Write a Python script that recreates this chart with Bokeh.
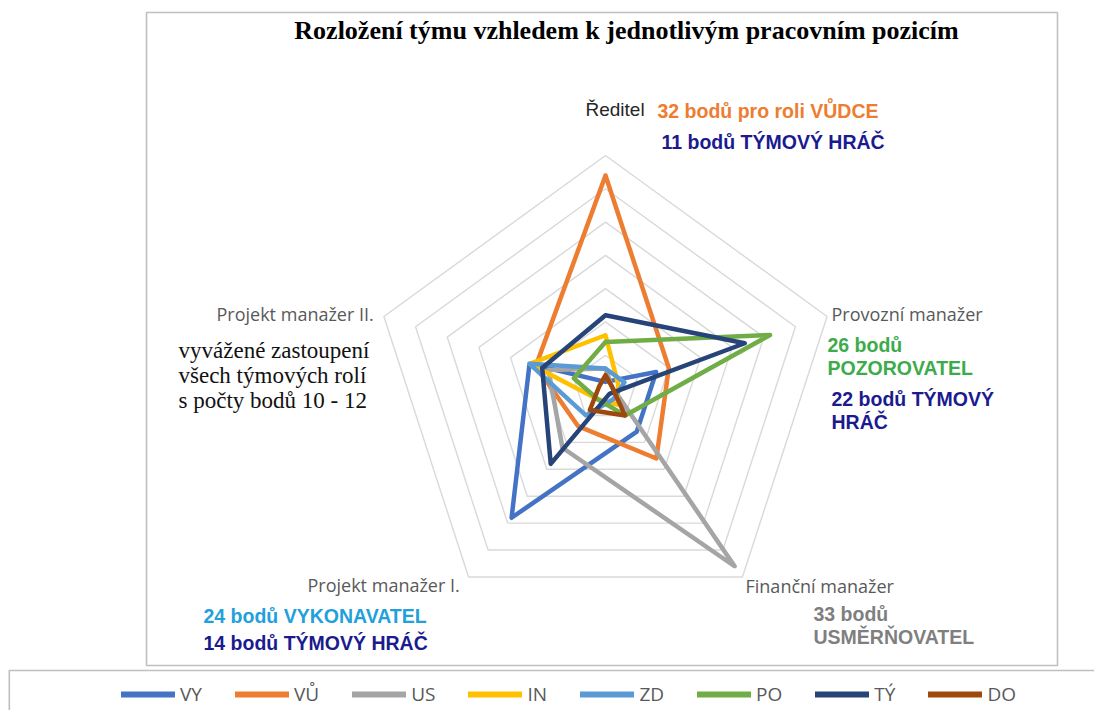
import math
from bokeh.plotting import figure
from bokeh.models import Range1d, Label, Legend, LegendItem
from bokeh.embed import file_html
from bokeh.resources import INLINE

# ---------------- data ----------------
categories = ["Ředitel", "Provozní manažer", "Finanční manažer",
              "Projekt manažer I.", "Projekt manažer II."]
series_names = ["VY", "VŮ", "US", "IN", "ZD", "PO", "TÝ", "DO"]
VY = [1, 8, 8, 24, 12]
VU = [32, 10, 13, 7, 11]
US = [3, 1, 33, 11, 9]
IN = [8, 2, 3, 2, 12]
ZD = [3, 3, 2, 5, 12]
PO = [7, 26, 5, 2, 5]
TY = [11, 22, 1, 14, 10]
DO = [2, 1, 5, 4, 1]
ring_values = [5, 10, 15, 20, 25, 30, 35]
title_text = "Rozložení týmu vzhledem k jednotlivým pracovním pozicím"

series_values = [VY, VU, US, IN, ZD, PO, TY, DO]
series_colors = ["#4472C4", "#ED7D31", "#A5A5A5", "#FFC000",
                 "#5B9BD5", "#70AD47", "#264478", "#9E480E"]

# ---------------- layout ----------------
W, H = 1094, 710
CX, CY = 605, 388         # radar centre in pixels
S = 233.0 / 35.0          # pixels per point


def P(px, py):
    """pixel position -> data coordinates"""
    return (px - CX) / S, (CY - py) / S


p = figure(width=W, height=H, output_backend="svg", toolbar_location=None,
           x_range=Range1d((0 - CX) / S, (W - CX) / S),
           y_range=Range1d((CY - H) / S, CY / S),
           x_axis_location=None, y_axis_location=None,
           min_border=0, background_fill_color="white",
           border_fill_color="white")
p.grid.visible = False
p.outline_line_color = None

# frames
l, t = P(146, 12)
r, b = P(1057, 665)
p.quad(left=[l], right=[r], top=[t], bottom=[b], fill_color=None,
       line_color="#BFBFBF", line_width=1.6)
l, t = P(8.8, 670)
r, b = P(1120, 740)
p.quad(left=[l], right=[r], top=[t], bottom=[b], fill_color=None,
       line_color="#BFBFBF", line_width=1.6)

n = len(categories)
angles = [math.pi / 2 - 2 * math.pi * k / n for k in range(n)]


def polygon(vals):
    xs = [v * math.cos(a) for v, a in zip(vals, angles)]
    ys = [v * math.sin(a) for v, a in zip(vals, angles)]
    return xs + xs[:1], ys + ys[:1]


# grid rings
gx, gy = [], []
for rv in ring_values:
    xs, ys = polygon([rv] * n)
    gx.append(xs)
    gy.append(ys)
p.multi_line(gx, gy, line_color="#D9D9D9", line_width=1.4)

# series
for name, vals, col in zip(series_names, series_values, series_colors):
    xs, ys = polygon(vals)
    p.line(xs, ys, line_color=col, line_width=4.5, line_join="round",
           line_cap="round")

# legend (swatch renderers drawn off-view, thicker lines)
nan = float("nan")
items = []
for name, col in zip(series_names, series_colors):
    rr = p.line(x=[nan, nan], y=[nan, nan], line_color=col, line_width=6,
                line_cap="round")
    items.append(LegendItem(label=name, renderers=[rr]))
legend = Legend(items=items, orientation="horizontal", location=(121, 3),
                glyph_width=54, glyph_height=20, label_standoff=5,
                label_height=20, spacing=33, padding=0, margin=0,
                label_text_font="Open Sans", label_text_font_size="19px",
                label_text_color="#595959", border_line_alpha=0,
                background_fill_alpha=0)
p.add_layout(legend, "center")


def lab(text, px, py, color, size, font="Liberation Sans", style="normal",
        align="left"):
    x, y = P(px, py)
    p.add_layout(Label(x=x, y=y, text=text, text_color=color,
                       text_font=font, text_font_size=size,
                       text_font_style=style, text_align=align,
                       text_baseline="middle"))


# title
lab(title_text, 626, 30, "#000000", "26px", font="Liberation Serif",
    style="bold", align="center")

# category labels
AX = "#595959"
AXF = "Open Sans"
lab(categories[0], 585, 109, "#262626", "19px", font="Liberation Sans")
lab(categories[1], 831, 313, AX, "18px", font=AXF)
lab(categories[2], 745, 585, AX, "18px", font=AXF)
lab(categories[3], 307, 584, AX, "18px", font=AXF)
lab(categories[4], 216, 313, AX, "18px", font=AXF)

# annotations
NAVY = "#1B1B8F"
BS = "19.5px"
lab("32 bodů pro roli VŮDCE", 657, 110, "#ED7D31", BS, style="bold")
lab("11 bodů TÝMOVÝ HRÁČ", 661, 141, NAVY, BS, style="bold")
lab("26 bodů", 827, 344, "#3CAB4B", BS, style="bold")
lab("POZOROVATEL", 827, 367, "#3CAB4B", BS, style="bold")
lab("22 bodů TÝMOVÝ", 831, 398, NAVY, BS, style="bold")
lab("HRÁČ", 831, 421, NAVY, BS, style="bold")
lab("24 bodů VYKONAVATEL", 203, 615, "#22A0DC", BS, style="bold")
lab("14 bodů TÝMOVÝ HRÁČ", 203, 642, NAVY, BS, style="bold")
lab("33 bodů", 813, 613, "#7F7F7F", BS, style="bold")
lab("USMĚRŇOVATEL", 813, 636, "#7F7F7F", BS, style="bold")
lab("vyvážené zastoupení", 178, 350, "#111111", "23px", font="Liberation Serif")
lab("všech týmových rolí", 178, 375, "#111111", "23px", font="Liberation Serif")
lab("s počty bodů 10 - 12", 178, 400, "#111111", "23px", font="Liberation Serif")

open("out.html", "w").write(file_html(p, INLINE))
